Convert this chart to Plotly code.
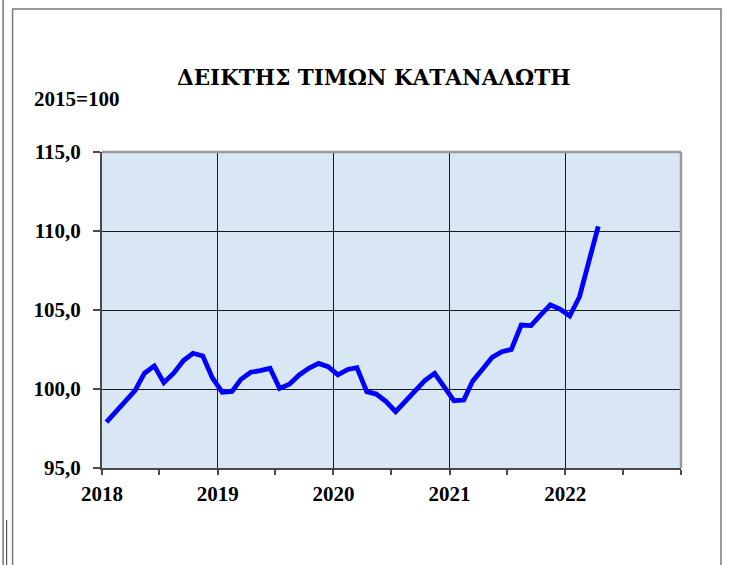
import pandas as pd
import plotly.graph_objects as go

# ---- data ----
start_month = "2018-01"
cpi_values = [
    97.9, 98.6, 99.25, 99.9, 101.0, 101.46, 100.4, 101.0, 101.8, 102.26, 102.09, 100.7,   # 2018
    99.8, 99.85, 100.61, 101.06, 101.16, 101.31, 100.04, 100.3, 100.89, 101.31, 101.62, 101.41,  # 2019
    100.89, 101.24, 101.35, 99.83, 99.68, 99.2, 98.56, 99.24, 99.98, 100.53, 100.99, 100.15,  # 2020
    99.26, 99.3, 100.5, 101.25, 102.0, 102.36, 102.5, 104.05, 104.01, 104.68, 105.32, 105.06,  # 2021
    104.62, 105.84, 107.9, 110.3,  # 2022
]
year_labels = ["2018", "2019", "2020", "2021", "2022", ""]
y_ticks = [95, 100, 105, 110, 115]
title_text = "ΔΕΙΚΤΗΣ ΤΙΜΩΝ ΚΑΤΑΝΑΛΩΤΗ"
base_text = "2015=100"

dates = pd.date_range(start_month + "-01", periods=len(cpi_values), freq="MS") + pd.Timedelta(days=14)
year_ticks = [f"{2018 + i}-01-01" for i in range(len(year_labels))]
half_ticks = [f"{2018 + i}-07-01" for i in range(len(year_labels) - 1)]

W, H = 736, 565
L, R, T, B = 101.5, 55, 152, 97
pw, ph = W - L - R, H - T - B


def px(x):
    return (x - L) / pw


def py(y):
    return (H - B - y) / ph


FONT = "Liberation Serif"
GREEK_FONT = "DejaVu Serif"
AX = "#4a4a4a"

fig = go.Figure()
fig.add_trace(go.Scatter(
    x=dates, y=cpi_values, mode="lines",
    line=dict(color="#0000ff", width=4.8),
    hoverinfo="skip", showlegend=False,
))

fig.update_layout(
    width=W, height=H,
    margin=dict(l=L, r=R, t=T, b=B, pad=0),
    paper_bgcolor="white",
    plot_bgcolor="#d9e7f5",
    separators=",.",
    showlegend=False,
    font=dict(family=FONT, color="black"),
)

fig.update_xaxes(
    type="date",
    range=["2018-01-01", "2023-01-01"],
    tickmode="array", tickvals=year_ticks, ticktext=year_labels,
    ticks="outside", ticklen=5, tickwidth=1.5, tickcolor=AX,
    showgrid=True, gridcolor="#1a1a1a", gridwidth=1,
    showline=True, linecolor=AX, linewidth=2,
    tickfont=dict(family=FONT, size=21, color="black", weight="bold"),
    ticklabelstandoff=1,
    minor=dict(tickmode="array", tickvals=half_ticks, ticks="outside",
               ticklen=5, tickwidth=1.5, tickcolor=AX, showgrid=False),
    zeroline=False, fixedrange=True,
)

fig.update_yaxes(
    range=[95, 115],
    tickmode="array", tickvals=y_ticks, tickformat=".1f",
    ticks="outside", ticklen=7, tickwidth=1.5, tickcolor=AX,
    showgrid=True, gridcolor="#1a1a1a", gridwidth=1,
    showline=True, linecolor=AX, linewidth=2,
    tickfont=dict(family=FONT, size=21, color="black", weight="bold"),
    ticklabelstandoff=8,
    zeroline=False, fixedrange=True,
)

shapes = [
    dict(type="line", xref="paper", yref="paper", x0=0, x1=1, y0=1, y1=1,
         line=dict(color="#9a9a9a", width=2.5), layer="above"),
    dict(type="line", xref="paper", yref="paper", x0=1, x1=1, y0=0, y1=1,
         line=dict(color="#9a9a9a", width=2.5), layer="above"),
    dict(type="rect", xref="paper", yref="paper",
         x0=px(12), x1=px(721), y0=py(580), y1=py(9),
         line=dict(color="#7a7a7a", width=1.5), fillcolor="rgba(0,0,0,0)"),
    dict(type="line", xref="paper", yref="paper",
         x0=px(2.5), x1=px(2.5), y0=py(570), y1=py(-5),
         line=dict(color="#555555", width=1.2)),
    dict(type="line", xref="paper", yref="paper",
         x0=px(6), x1=px(6), y0=py(570), y1=py(520),
         line=dict(color="#555555", width=1.2)),
]
fig.update_layout(shapes=shapes)

fig.add_annotation(
    text=title_text, xref="paper", yref="paper",
    x=px(373), y=py(77), xanchor="center", yanchor="middle",
    showarrow=False, font=dict(family=GREEK_FONT, size=21.5, color="black", weight="bold"),
)
fig.add_annotation(
    text=base_text, xref="paper", yref="paper",
    x=px(31), y=py(99), xanchor="left", yanchor="middle",
    showarrow=False, font=dict(family=FONT, size=21, color="black", weight="bold"),
)

fig.write_html(
    "out.html",
    config=dict(displayModeBar=False),
    post_script="document.body.style.margin='0';document.body.style.overflow='hidden';",
)
